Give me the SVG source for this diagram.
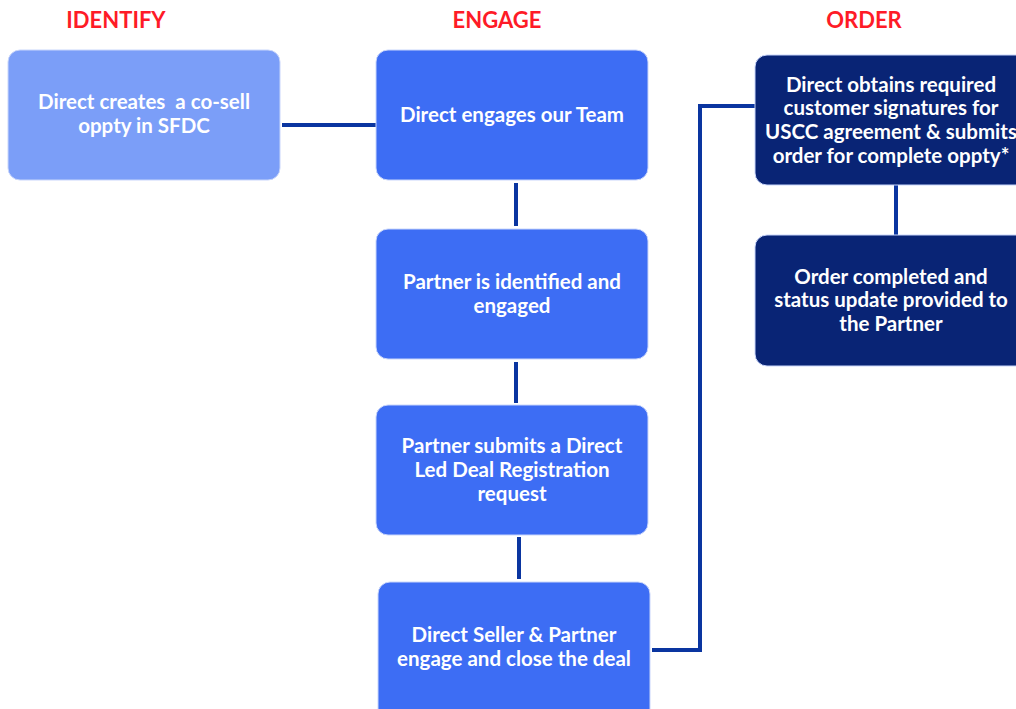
<svg xmlns="http://www.w3.org/2000/svg" width="1016" height="709" viewBox="0 0 1016 709">
<style>
.h{font-family:Lato,"Liberation Sans",sans-serif;font-weight:bold;font-size:22px;fill:#fe1b27;text-anchor:middle}
.t{font-family:Lato,"Liberation Sans",sans-serif;font-weight:bold;font-size:20.5px;fill:#ffffff;text-anchor:middle;white-space:pre}
.b1{fill:#7b9ef8;stroke:#c9d6fb;stroke-width:1}
.b2{fill:#3d6df4;stroke:#c9d6fb;stroke-width:1}
.b3{fill:#092475;stroke:#c9d6fb;stroke-width:1}
.c{fill:none;stroke:#0a35a0;stroke-width:4}
</style>
<rect width="1016" height="709" fill="#ffffff"/>
<text class="h" x="116" y="28">IDENTIFY</text>
<text class="h" x="497" y="28">ENGAGE</text>
<text class="h" x="864" y="28">ORDER</text>
<g id="connectors">
<line class="c" x1="282" y1="125" x2="378" y2="125"/>
<line class="c" x1="516" y1="183" x2="516" y2="226"/>
<line class="c" x1="516" y1="362" x2="516" y2="403"/>
<line class="c" x1="519" y1="537" x2="519" y2="579"/>
<polyline class="c" points="652,650 700,650 700,106 755,106"/>
<line class="c" x1="896" y1="185" x2="896" y2="240"/>
</g>
<g id="identify">
<rect class="b1" x="8" y="50" width="272" height="130" rx="12"/>
<text class="t" x="144" y="109" xml:space="preserve">Direct creates  a co-sell</text>
<text class="t" x="144" y="133">oppty in SFDC</text>
</g>
<g id="engage-team">
<rect class="b2" x="376" y="50" width="272" height="130" rx="12"/>
<text class="t" x="512" y="122">Direct engages our Team</text>
</g>
<g id="partner-identified">
<rect class="b2" x="376" y="229" width="272" height="130" rx="12"/>
<text class="t" x="512" y="289">Partner is identified and</text>
<text class="t" x="512" y="313">engaged</text>
</g>
<g id="deal-registration">
<rect class="b2" x="376" y="405" width="272" height="130" rx="12"/>
<text class="t" x="512" y="453">Partner submits a Direct</text>
<text class="t" x="512" y="477">Led Deal Registration</text>
<text class="t" x="512" y="501">request</text>
</g>
<g id="close-deal">
<rect class="b2" x="378" y="582" width="272" height="140" rx="12"/>
<text class="t" x="514" y="642">Direct Seller &amp; Partner</text>
<text class="t" x="514" y="666">engage and close the deal</text>
</g>
<g id="order-submit">
<rect class="b3" x="755" y="55" width="280" height="130" rx="12"/>
<text class="t" x="891" y="92">Direct obtains required</text>
<text class="t" x="891" y="115">customer signatures for</text>
<text class="t" x="891" y="139">USCC agreement &amp; submits</text>
<text class="t" x="891" y="163">order for complete oppty*</text>
</g>
<g id="order-complete">
<rect class="b3" x="755" y="235" width="280" height="131" rx="12"/>
<text class="t" x="891" y="284">Order completed and</text>
<text class="t" x="891" y="307">status update provided to</text>
<text class="t" x="891" y="331">the Partner</text>
</g>
</svg>
